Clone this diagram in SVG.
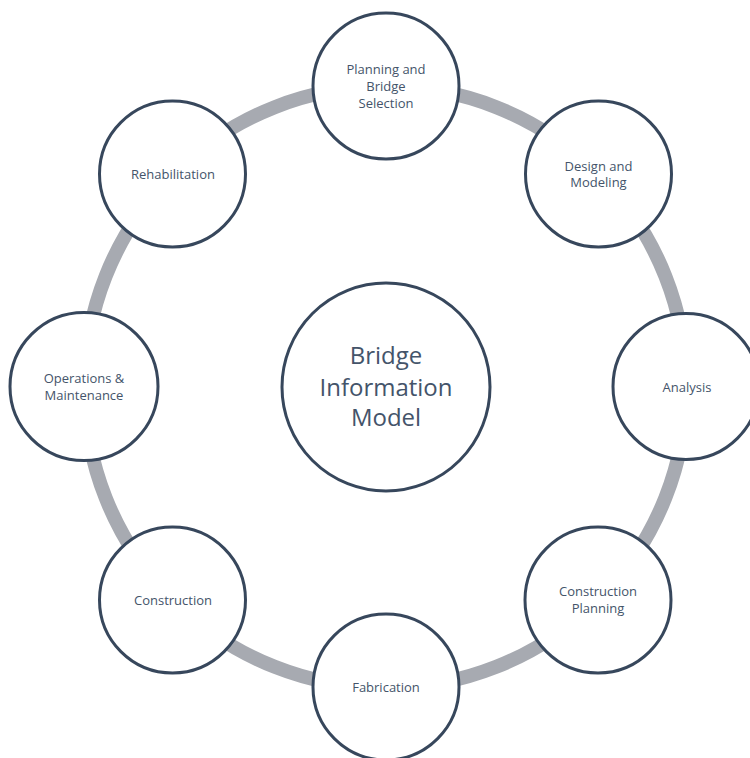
<svg xmlns="http://www.w3.org/2000/svg" width="750" height="758" viewBox="0 0 750 758">
  <style>
    .ring { fill: none; stroke: #A7AAB1; stroke-width: 14; }
    .node { fill: #FFFFFF; stroke: #37475C; stroke-width: 3; }
    .lbl { font-family: "Open Sans", "Noto Sans", "Liberation Sans", sans-serif; font-size: 13px; fill: #44546A; text-anchor: middle; }
    .hub { font-family: "Open Sans", "Noto Sans", "Liberation Sans", sans-serif; font-size: 24px; fill: #44546A; text-anchor: middle; }
  </style>
  <rect width="750" height="758" fill="#FFFFFF"/>

  <!-- cycle ring linking the lifecycle stages -->
  <g id="connectors">
    <circle class="ring" cx="385.5" cy="387" r="301"/>
  </g>

  <g id="hub">
    <circle class="node" cx="386" cy="387" r="104"/>
    <text class="hub" x="386" y="364">Bridge</text>
    <text class="hub" x="386" y="396">Information</text>
    <text class="hub" x="386" y="426">Model</text>
  </g>

  <g id="planning">
    <circle class="node" cx="386" cy="86" r="73"/>
    <text class="lbl" x="386" y="73.5">Planning and</text>
    <text class="lbl" x="386" y="90.5">Bridge</text>
    <text class="lbl" x="386" y="107.5">Selection</text>
  </g>

  <g id="design">
    <circle class="node" cx="598.5" cy="174" r="73"/>
    <text class="lbl" x="598.5" y="170.5">Design and</text>
    <text class="lbl" x="598.5" y="187">Modeling</text>
  </g>

  <g id="analysis">
    <circle class="node" cx="686" cy="386.5" r="73"/>
    <text class="lbl" x="687" y="391.5">Analysis</text>
  </g>

  <g id="construction-planning">
    <circle class="node" cx="598" cy="600" r="73"/>
    <text class="lbl" x="598" y="595.5">Construction</text>
    <text class="lbl" x="598" y="612.5">Planning</text>
  </g>

  <g id="fabrication">
    <circle class="node" cx="386" cy="687" r="73"/>
    <text class="lbl" x="386" y="691.5">Fabrication</text>
  </g>

  <g id="construction">
    <circle class="node" cx="172.5" cy="600" r="73"/>
    <text class="lbl" x="173" y="604.5">Construction</text>
  </g>

  <g id="operations">
    <circle class="node" cx="84" cy="386.5" r="74"/>
    <text class="lbl" x="84" y="382.5">Operations &amp;</text>
    <text class="lbl" x="84" y="400">Maintenance</text>
  </g>

  <g id="rehabilitation">
    <circle class="node" cx="172.5" cy="174" r="73"/>
    <text class="lbl" x="173" y="178.5">Rehabilitation</text>
  </g>
</svg>
